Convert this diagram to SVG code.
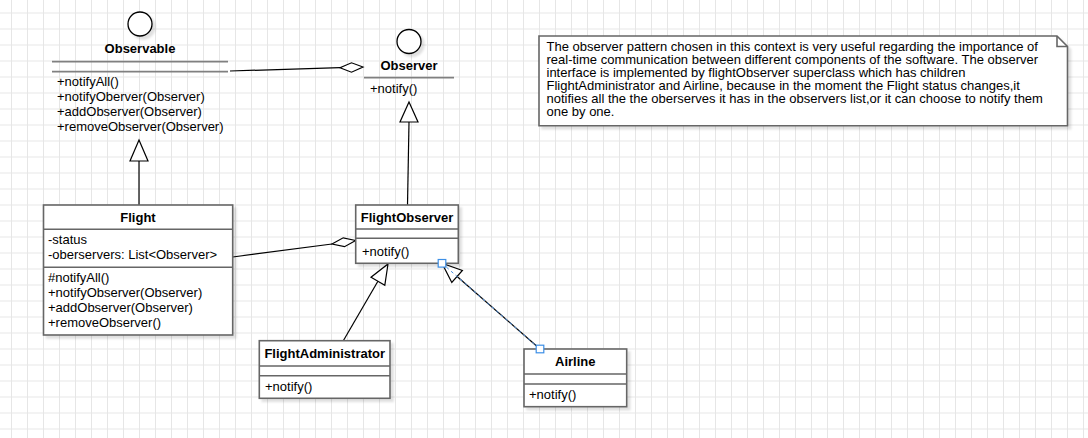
<svg xmlns="http://www.w3.org/2000/svg" width="1088" height="438" viewBox="0 0 1088 438">
<style>
text{font-family:"Liberation Sans",Arial,sans-serif;font-size:13px;fill:#000}
.b{font-weight:bold}
.m{text-anchor:middle}
.box{fill:#fff;stroke:#666;stroke-width:1.6}
.div{stroke:#666;stroke-width:1.6;fill:none}
.sep{stroke:#808080;stroke-width:1.8;fill:none}
.ifc{fill:#fff;stroke:#000;stroke-width:1.3}
.edge{stroke:#000;stroke-width:1.2;fill:none}
.tri{fill:#fff;stroke:#000;stroke-width:1.2}
.dia{fill:#fff;stroke:#000;stroke-width:1.2}
.sh{filter:url(#shadow)}
.hdl{fill:#fff;stroke:#3d8fe6;stroke-width:1.2}
</style>
<defs>
<pattern id="grid" patternUnits="userSpaceOnUse" x="11" y="12.5" width="16" height="16">
<path d="M0.5 0V16M0 0.5H16" stroke="#e6e6e6" stroke-width="1" fill="none"/>
</pattern>
<filter id="shadow" x="-10%" y="-10%" width="130%" height="130%">
<feDropShadow dx="3" dy="3" stdDeviation="1.2" flood-color="#000" flood-opacity="0.12"/>
</filter>
</defs>
<rect width="1088" height="438" fill="#fff"/>
<rect width="1088" height="438" fill="url(#grid)"/>

<g id="connectors">
<path class="edge" d="M230 71L340 67.7"/>
<path class="dia" d="M363 67L351.5 62.8L340 67.7L351.5 72.2Z"/>
<path class="edge" d="M232.7 257L332 244"/>
<path class="dia" d="M355.7 240.5L343.2 237.8L332 244L344.5 246.7Z"/>
<path class="edge" d="M139 205V161"/>
<path class="tri" d="M139 140L148 161L130 161Z"/>
<path class="edge" d="M407.5 205L409 122"/>
<path class="tri" d="M409 102L418 122L400 122Z"/>
<path class="edge" d="M343.3 340.7L377.9 281.3"/>
<path class="tri" d="M388 264L384.8 285.3L371 277.3Z"/>
<path class="edge" stroke="#1a2a50" d="M540 349L457.1 276.5"/>
<path class="tri" d="M442 263.3L462.4 270.5L451.8 282.5Z"/>
</g>

<g id="observable">
<circle class="ifc sh" cx="140" cy="24" r="12"/>
<text class="b m" x="140" y="53.3">Observable</text>
<path class="sep" d="M52 61.7H228M52 71.7H228"/>
<text x="57" y="86">+notifyAll()</text>
<text x="57" y="101">+notifyOberver(Observer)</text>
<text x="57" y="116">+addObserver(Observer)</text>
<text x="57" y="131">+removeObserver(Observer)</text>
</g>

<g id="observer">
<circle class="ifc sh" cx="409" cy="41.5" r="12"/>
<text class="b m" x="409" y="70">Observer</text>
<path class="sep" d="M364 77.7H454"/>
<text x="370" y="92.5">+notify()</text>
</g>

<g id="flight">
<rect class="box sh" x="43.5" y="205" width="189.2" height="130"/>
<path class="div" d="M43.5 229.3H232.7M43.5 267.3H232.7"/>
<text class="b m" x="138" y="221.7">Flight</text>
<text x="48" y="244">-status</text>
<text x="48" y="259">-oberservers: List&lt;Observer&gt;</text>
<text x="48" y="282">#notifyAll()</text>
<text x="48" y="297">+notifyObserver(Observer)</text>
<text x="48" y="312">+addObserver(Observer)</text>
<text x="48" y="327">+removeObserver()</text>
</g>

<g id="flightObserver">
<rect class="box sh" x="355.7" y="205" width="102.6" height="58.3"/>
<path class="div" d="M355.7 229H458.3M355.7 238.3H458.3"/>
<text class="b m" x="407" y="221.7">FlightObserver</text>
<text x="362" y="256">+notify()</text>
</g>

<g id="flightAdministrator">
<rect class="box sh" x="259.3" y="340.7" width="130.7" height="57.6"/>
<path class="div" d="M259.3 366H390M259.3 375.7H390"/>
<text class="b m" x="324.7" y="357.5">FlightAdministrator</text>
<text x="265" y="391">+notify()</text>
</g>

<g id="airline">
<rect class="box sh" x="524" y="349" width="102.7" height="57.7"/>
<path class="div" d="M524 374H626.7M524 384H626.7"/>
<text class="b m" x="575.3" y="365.5">Airline</text>
<text x="529" y="399">+notify()</text>
</g>

<g id="note">
<path class="box sh" d="M539 36H1057L1067.5 46.5V125.7H539Z"/>
<path class="div" d="M1057 36V46.5H1067.5"/>
<text x="546.5" y="50.7">The observer pattern chosen in this context is very useful regarding the importance of</text>
<text x="546.5" y="63.8">real-time communication between different components of the software. The observer</text>
<text x="546.5" y="76.8">interface is implemented by flightObserver superclass which has children</text>
<text x="546.5" y="89.9">FlightAdministrator and Airline, because in the moment the Flight status changes,it</text>
<text x="546.5" y="102.9">notifies all the the oberserves it has in the observers list,or it can choose to notify them</text>
<text x="546.5" y="116">one by one.</text>
</g>

<g id="selection">
<path d="M442 263.3L540 349" stroke="#4a90e2" stroke-width="1" stroke-dasharray="3 3" fill="none"/>
<rect class="hdl" x="438.2" y="259.5" width="7.6" height="7.6"/>
<rect class="hdl" x="536.2" y="345.2" width="7.6" height="7.6"/>
</g>
</svg>
